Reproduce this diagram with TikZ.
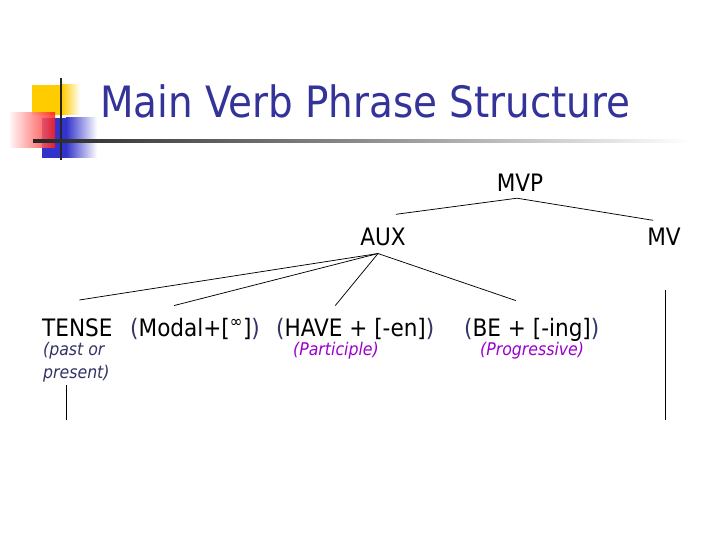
\documentclass[tikz,border=0pt]{standalone}
\usepackage{fontspec}
\setmainfont{DejaVu Sans Condensed}
\usepackage{tikz}
\usetikzlibrary{positioning,calc}
\definecolor{ctitle}{HTML}{333399}
\definecolor{cnavy}{HTML}{333366}
\definecolor{cpurple}{HTML}{9900CC}
\definecolor{cyel}{HTML}{FFCC00}
\definecolor{cblu}{HTML}{3333CC}
\definecolor{cred}{HTML}{FF1A1A}
\tikzset{
 ttl/.style={inner sep=0pt, text=ctitle, font=\fontsize{43.2bp}{52bp}\selectfont},
 lbl/.style={inner sep=0pt, text=black, font=\fontsize{24bp}{29bp}\selectfont},
 note/.style={inner sep=0pt, align=left, font=\fontsize{17.5bp}{23bp}\selectfont\itshape},
 br/.style={draw=black, line width=0.75pt},
}
\newcommand{\parn}[1]{\textcolor{cnavy}{#1}}

\begin{document}
\begin{tikzpicture}[x=1bp,y=-1bp]
 \useasboundingbox[fill=white] (0,0) rectangle (720,540);
 % logo squares
 \fill[cyel] (32,85) rectangle (62,115);
 \shade[left color=cyel, right color=white] (62,85) rectangle (80,115);
 \fill[cblu] (42,118) rectangle (66,158);
 \shade[left color=cblu, right color=white] (66,118) rectangle (97,158);
 \shade[left color=cred!5, right color=cred, opacity=0.85] (10,113) rectangle (55,148);
 \draw[black!85, line width=2pt] (61,78) -- (61,160);
 \shade[left color=black!85, right color=white, middle color=black!45] (33,140) rectangle (690,142.6);
 % title
 \node[ttl, anchor=base west] (title) at (100,118) {Main Verb Phrase Structure};

 % tree labels
 \node[lbl, anchor=base] (MVP) at (520,192) {MVP};
 \node[lbl, anchor=base] (AUX) at (383,246) {AUX};
 \node[lbl, anchor=base] (MV) at (664,246) {MV};
 \node[lbl, anchor=base west] (TENSE) at (42,336) {TENSE};
 \node[lbl, anchor=base west] (MODAL) at (130,336) {\parn{(}Modal+[\textsuperscript{∞}]\parn{)}};
 \node[lbl, anchor=base west] (HAVE) at (276,336) {\parn{(}HAVE + [-en]\parn{)}};
 \node[lbl, anchor=base west] (BE) at (464,336) {\parn{(}BE + [-ing]\parn{)}};
 % notes under the row
 \node[note, text=cnavy, anchor=north west] (PAST) at (43,342) {(past or\\present)};
 \node[note, text=cpurple, anchor=north west] (PART) at (293,342) {(Participle)};
 \node[note, text=cpurple, anchor=north west] (PROG) at (480,342) {(Progressive)};

 % branch points
 \coordinate (mvpfoot) at ($(MVP.south)+(-3,6)$);
 \coordinate (auxhead) at ($(AUX.north)+(13,-14)$);
 \coordinate (mvhead) at ($(MV.north)+(-11,-8)$);
 \coordinate (auxfoot) at ($(AUX.south)+(-5,7)$);
 \coordinate (tensehead) at ($(TENSE.north)+(2,-18)$);
 \coordinate (modalhead) at ($(MODAL.north)+(-21,-12)$);
 \coordinate (havehead) at ($(HAVE.north)+(-20,-12)$);
 \coordinate (behead) at ($(BE.north)+(-16,-17)$);
 \coordinate (mvfoot) at ($(MV.south)+(1,44)$);
 \coordinate (mvend) at (665,420);
 \coordinate (pastfoot) at ($(PAST.south west)+(23,3)$);
 \coordinate (pastend) at (66,420);

 \draw[br] (mvpfoot) -- (auxhead); \draw[br] (mvpfoot) -- (mvhead);
 \draw[br] (auxfoot) -- (tensehead); \draw[br] (auxfoot) -- (modalhead);
 \draw[br] (auxfoot) -- (havehead); \draw[br] (auxfoot) -- (behead);
 \draw[br] (mvfoot) -- (mvend);
 \draw[br] (pastfoot) -- (pastend);
\end{tikzpicture}
\end{document}
